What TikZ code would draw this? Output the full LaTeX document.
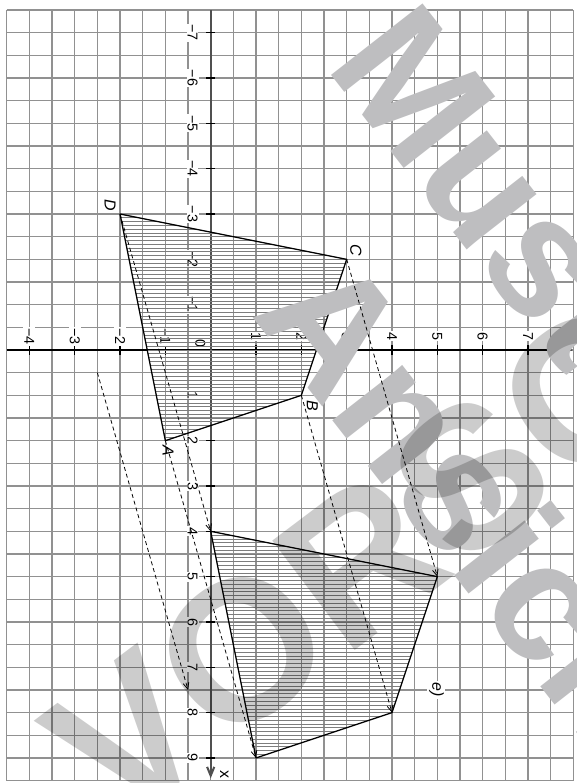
\documentclass[tikz,border=0pt]{standalone}
\usepackage{fontspec}
\setmainfont{Liberation Sans}
\usetikzlibrary{arrows.meta}
\definecolor{gridG}{RGB}{145,145,145}
\definecolor{axisG}{RGB}{80,80,80}
\definecolor{hatchG}{RGB}{125,125,125}
\definecolor{markA}{RGB}{190,190,192}
\definecolor{markB}{RGB}{204,204,204}

\begin{document}
\begin{tikzpicture}[
  x={(0cm,-1cm)}, y={(1cm,0cm)},
  grid line/.style={draw=gridG, line width=0.8pt},
  xaxis/.style={draw=axisG, line width=1.3pt, -{Straight Barb[length=5.5pt,width=4.5pt]}},
  yaxis/.style={draw=black, line width=0.8pt, -{Straight Barb[length=5.5pt,width=4.5pt]}},
  tick/.style={draw=black, line width=0.8pt},
  tick label/.style={rotate=-90, fill=white, inner sep=0.6pt, font=\fontsize{9}{9}\selectfont},
  axis name/.style={rotate=-90, inner sep=0pt, font=\fontsize{10}{10}\selectfont},
  pt label/.style={rotate=-90, inner sep=0pt, font=\fontsize{10}{10}\selectfont\itshape},
  hatch/.style={draw=hatchG, line width=0.4pt},
  fig line/.style={draw=black, line width=0.8pt, line join=round},
  shift arrow/.style={dash pattern=on 2.5pt off 1.9pt, line width=0.5pt,
    -{Straight Barb[length=4pt,width=3.6pt]}},
  mark word/.style={inner sep=0pt, font=\bfseries\fontsize{106}{106}\selectfont}]

  \useasboundingbox (-7.721,-4.648) rectangle (9.552,8.059);

  % squared paper
  \foreach \gx in {-7.5,-7,...,9.5} \draw[grid line] (\gx,-4.5) -- (\gx,8);
  \foreach \gy in {-4.5,-4,...,8} \draw[grid line] (-7.5,\gy) -- (9.5,\gy);

  % axes
  \coordinate (xs) at (-7.5,0);
  \coordinate (xe) at (9.45,0);
  \coordinate (ys) at (0,-4.5);
  \coordinate (ye) at (0,7.98);
  \draw[yaxis] (ys) -- (ye);
  \draw[xaxis] (xs) -- (xe);
  \foreach \k in {1,...,7} {
    \draw[tick] (-\k,-0.1) -- (-\k,0.1);
    \node[tick label] (xm\k) at (-\k,-0.4) {−\k};
  }
  \foreach \k in {1,...,9} {
    \draw[tick] (\k,-0.1) -- (\k,0.1);
    \node[tick label] (xp\k) at (\k,-0.4) {\k};
  }
  \foreach \k in {1,...,4} {
    \draw[tick] (-0.1,-\k) -- (0.1,-\k);
    \node[tick label] (ym\k) at (-0.3,-\k) {−\k};
  }
  \foreach \k in {1,...,7} {
    \draw[tick] (-0.1,\k) -- (0.1,\k);
    \node[tick label] (yp\k) at (-0.3,\k) {\k};
  }
  \node[tick label] (orig) at (-0.15,-0.23) {0};
  \node[axis name] (lx) at (9.36,0.3) {x};
  \node[axis name] (ly) at (0.29,7.82) {y};

  % quadrilateral and its image
  \coordinate (A) at (2,-1);
  \coordinate (B) at (1,2);
  \coordinate (C) at (-2,3);
  \coordinate (D) at (-3,-2);
  \coordinate (Ap) at (9,1);
  \coordinate (Bp) at (8,4);
  \coordinate (Cp) at (5,5);
  \coordinate (Dp) at (4,0);

  \begin{scope}
    \clip (A) -- (B) -- (C) -- (D) -- cycle;
    \foreach \h in {-36,...,24} \draw[hatch] (\h/12,-3) -- (\h/12,4);
  \end{scope}
  \begin{scope}
    \clip (Ap) -- (Bp) -- (Cp) -- (Dp) -- cycle;
    \foreach \h in {48,...,108} \draw[hatch] (\h/12,-1) -- (\h/12,6);
  \end{scope}
  \draw[fig line] (A) -- (B) -- (C) -- (D) -- cycle;
  \draw[fig line] (Ap) -- (Bp) -- (Cp) -- (Dp) -- cycle;

  % watermark, first layer
  \node[mark word, text=markA, rotate=-52] (wm1) at (-2.21,7.26) {Muster};
  \node[mark word, text=markA, rotate=-52] (wm2) at (3.79,6.14) {Ansicht};

  % shift arrows
  \draw[shift arrow] (A) -- (Ap);
  \draw[shift arrow] (B) -- (Bp);
  \draw[shift arrow] (C) -- (Cp);
  \draw[shift arrow] (D) -- (Dp);
  \coordinate (v0) at (0.5,-2.5);
  \coordinate (v1) at (7.5,-0.5);
  \draw[shift arrow] (v0) -- (v1);

  \node[pt label] (lA) at (2.22,-0.94) {A};
  \node[pt label] (lB) at (1.23,2.24) {B};
  \node[pt label] (lC) at (-2.2,3.2) {C};
  \node[pt label] (lD) at (-3.19,-2.22) {D};
  \node[pt label, fill=white, inner sep=1pt] (le) at (7.5,4.98) {e)};

  % watermark, second layer
  \begin{scope}[blend mode=multiply]
    \node[mark word, text=markB, rotate=37, font=\bfseries\fontsize{125}{125}\selectfont]
      (wm3) at (1.85,7.02) {VORSCHAU};
  \end{scope}
\end{tikzpicture}
\end{document}
